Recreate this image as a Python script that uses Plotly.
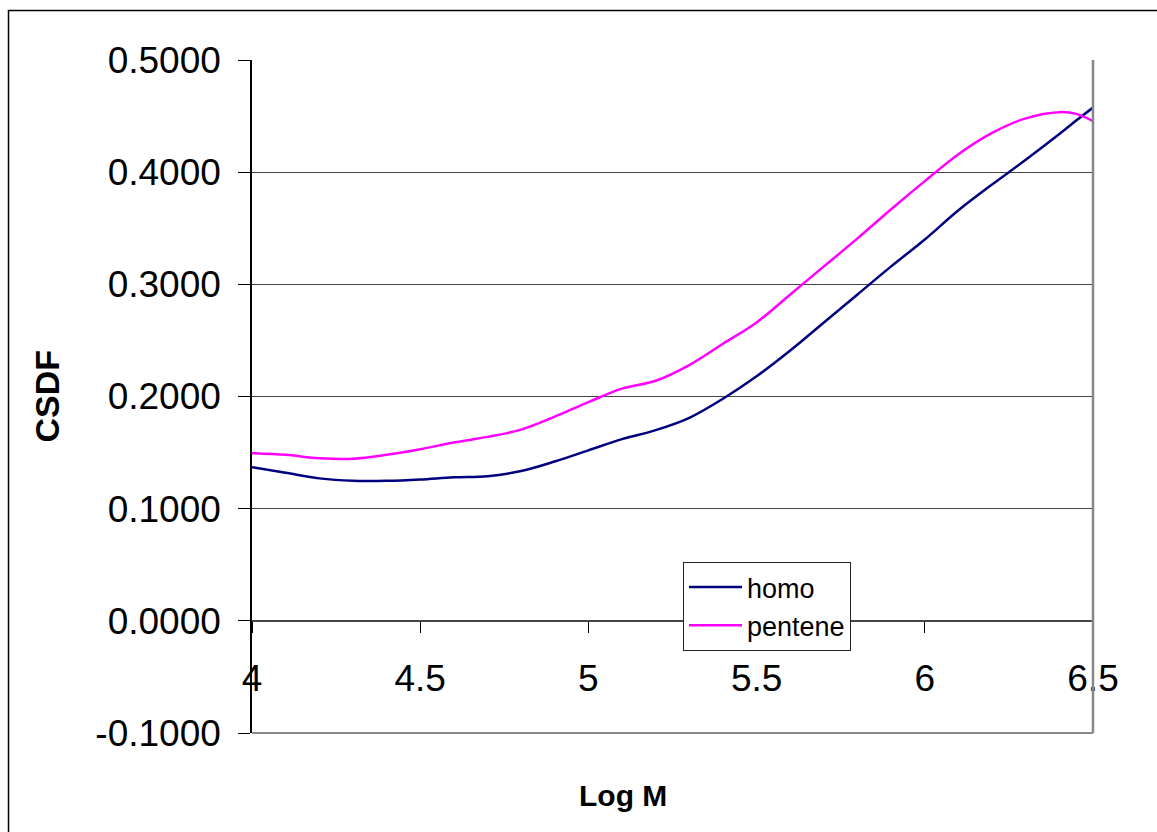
import plotly.graph_objects as go

# Log M grid and cumulative distribution values for the two samples
log_m = [4.0, 4.1, 4.2, 4.3, 4.4, 4.5, 4.6, 4.7, 4.8, 4.9, 5.0, 5.1, 5.2, 5.3,
         5.4, 5.5, 5.6, 5.7, 5.8, 5.9, 6.0, 6.1, 6.2, 6.3, 6.4, 6.45, 6.5]
homo = [0.137, 0.132, 0.127, 0.1248, 0.1248, 0.126, 0.128, 0.129, 0.1335, 0.142,
        0.152, 0.162, 0.170, 0.181, 0.198, 0.218, 0.241, 0.266, 0.291, 0.316,
        0.340, 0.366, 0.389, 0.411, 0.434, 0.446, 0.4576]
pentene = [0.1495, 0.148, 0.145, 0.1445, 0.148, 0.153, 0.159, 0.164, 0.1705, 0.182,
           0.195, 0.207, 0.214, 0.228, 0.247, 0.266, 0.291, 0.316, 0.341, 0.367,
           0.392, 0.416, 0.435, 0.448, 0.4535, 0.452, 0.4455]

y_ticks = [-0.1, 0.0, 0.1, 0.2, 0.3, 0.4, 0.5]
y_tick_text = ["-0.1000", "0.0000", "0.1000", "0.2000", "0.3000", "0.4000", "0.5000"]
x_ticks = [4, 4.5, 5, 5.5, 6, 6.5]
x_tick_text = ["4", "4.5", "5", "5.5", "6", "6.5"]

FONT = "Liberation Sans, Arial, sans-serif"

fig = go.Figure()
fig.add_trace(go.Scatter(x=log_m, y=homo, name="homo", mode="lines",
                         line=dict(color="#000080", width=2.5, shape="spline")))
fig.add_trace(go.Scatter(x=log_m, y=pentene, name="pentene", mode="lines",
                         line=dict(color="#FF00FF", width=2.5, shape="spline")))

W, H = 1157, 832
L, R, T, B = 252, 1093, 60, 733
pw, ph = R - L, B - T


def px_x(px):
    return (px - L) / pw


def px_y(py):
    return (B - py) / ph


fig.update_layout(
    width=W, height=H,
    margin=dict(l=L, r=W - R, t=T, b=H - B, pad=0),
    paper_bgcolor="white", plot_bgcolor="white",
    font=dict(family=FONT, color="black"),
    showlegend=True,
    legend=dict(x=px_x(683), y=px_y(562), xanchor="left", yanchor="top",
                bgcolor="white", bordercolor="#222222", borderwidth=1,
                font=dict(size=27, family=FONT, color="black"),
                tracegroupgap=0, itemwidth=53),
    xaxis=dict(range=[4, 6.5], tickvals=x_ticks, ticktext=x_tick_text,
               showgrid=False, zeroline=False, showline=True,
               linecolor="#444444", linewidth=1,
               anchor="free", position=1 / 6,
               ticks="outside", ticklen=11, tickcolor="black", tickwidth=1,
               tickfont=dict(size=37, family=FONT, color="black"),
               ticklabelstandoff=14),
    yaxis=dict(range=[-0.1, 0.5], tickvals=y_ticks, ticktext=y_tick_text,
               showgrid=True, gridcolor="#444444", gridwidth=1,
               zeroline=False, showline=True, linecolor="black", linewidth=1.5,
               ticks="outside", ticklen=12, tickcolor="black", tickwidth=1,
               tickfont=dict(size=37, family=FONT, color="black"),
               ticklabelstandoff=10),
    shapes=[
        # plot area border (right and bottom edges)
        dict(type="line", xref="paper", yref="paper", x0=1, x1=1, y0=0, y1=1,
             line=dict(color="#888888", width=2.5)),
        dict(type="line", xref="paper", yref="paper", x0=0, x1=1, y0=0, y1=0,
             line=dict(color="#888888", width=2)),
        # chart area frame
        dict(type="rect", xref="paper", yref="paper",
             x0=px_x(8.5), x1=px_x(1200), y0=px_y(900), y1=px_y(10.5),
             line=dict(color="black", width=1.5), layer="below"),
    ],
    annotations=[
        dict(text="<b>CSDF</b>", xref="paper", yref="paper",
             x=px_x(46), y=0.5, textangle=-90, showarrow=False,
             xanchor="center", yanchor="middle",
             font=dict(size=34, family=FONT, color="black")),
        dict(text="<b>Log M</b>", xref="paper", yref="paper",
             x=px_x(623), y=px_y(795), showarrow=False,
             xanchor="center", yanchor="middle",
             font=dict(size=30, family=FONT, color="black")),
    ],
)

fig.write_html("out.html")
